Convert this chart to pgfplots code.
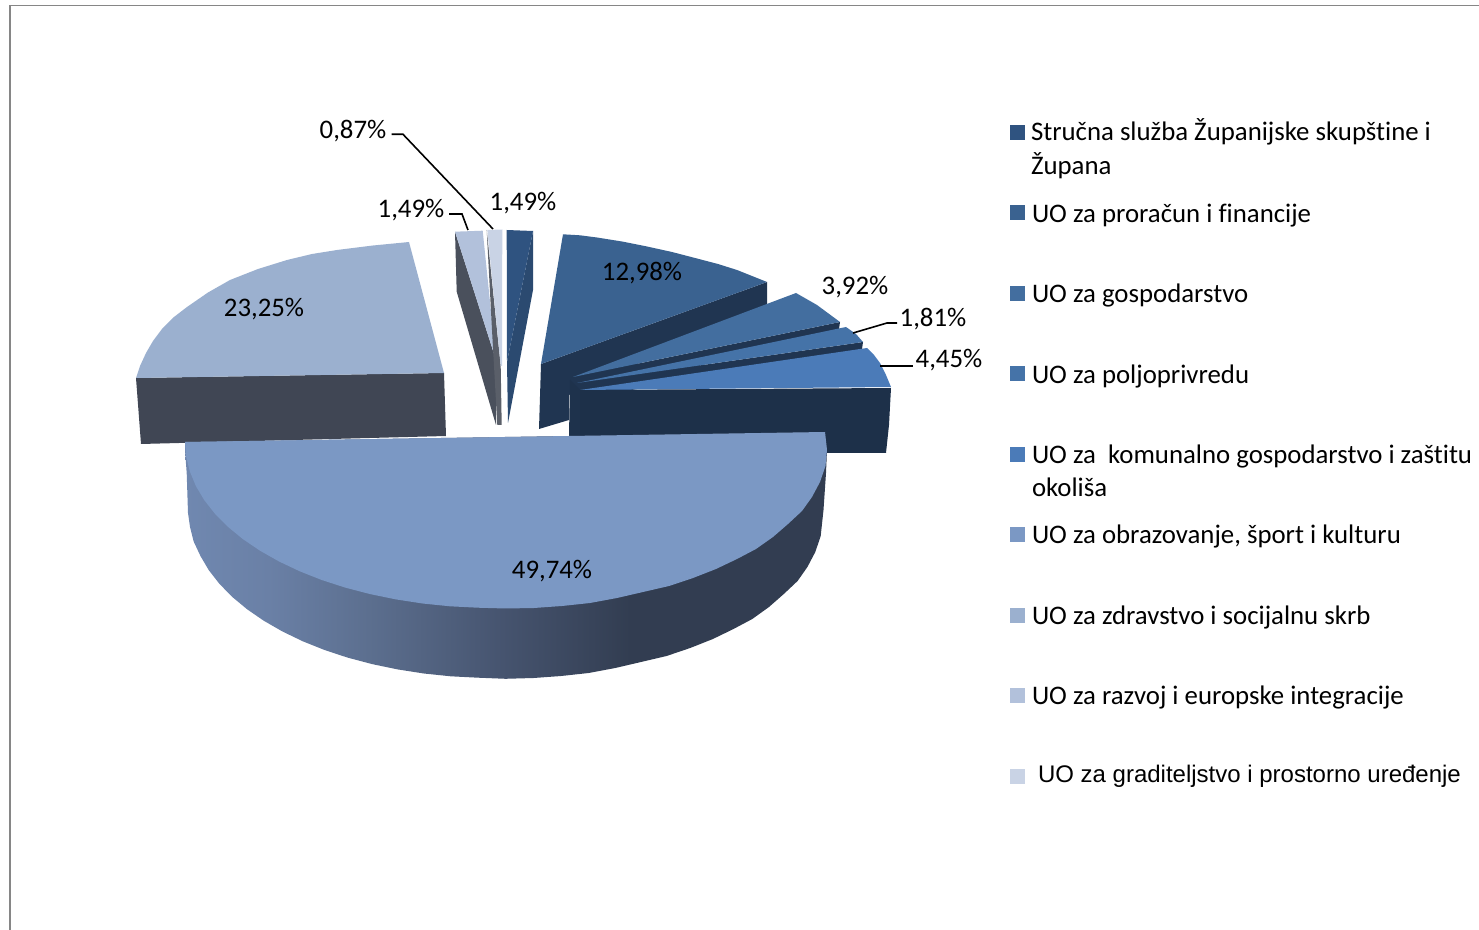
\documentclass[border=0pt]{standalone}
\usepackage{fontspec}
\setmainfont{Carlito}[RawFeature={-liga;-clig}]
\newfontfamily\arialf{Liberation Sans}
\usepackage{pgfplots}
\pgfplotsset{compat=1.18}
\definecolor{ss0}{HTML}{7088B0}
\definecolor{ss1}{HTML}{6A80A6}
\definecolor{ss2}{HTML}{5C6F8F}
\definecolor{ss3}{HTML}{46546F}
\definecolor{ss4}{HTML}{323D51}
\pgfdeclarehorizontalshading{pieside}{100bp}{color(0bp)=(ss0); color(25bp)=(ss0); color(31.5bp)=(ss1); color(39.3bp)=(ss2); color(49.7bp)=(ss3); color(59.7bp)=(ss4); color(100bp)=(ss4)}
\definecolor{c1}{HTML}{2F5380}
\definecolor{c2}{HTML}{3A6290}
\definecolor{c3}{HTML}{436E9F}
\definecolor{c4}{HTML}{4573A8}
\definecolor{c5}{HTML}{4B7BB8}
\definecolor{c6}{HTML}{7B98C4}
\definecolor{c7}{HTML}{9BB0CF}
\definecolor{c8}{HTML}{B2C1DB}
\definecolor{c9}{HTML}{C9D3E5}
\definecolor{d1}{HTML}{2B4A70}
\definecolor{d2}{HTML}{203551}
\definecolor{d4}{HTML}{1E324C}
\definecolor{d5}{HTML}{1D3049}
\definecolor{d7}{HTML}{404654}
\definecolor{d8}{HTML}{4A505C}
\definecolor{d9}{HTML}{5A5F69}
\definecolor{fr}{HTML}{868686}
\tikzset{tx/.style={inner sep=0pt, outer sep=0pt}}
\begin{document}
\begin{tikzpicture}
\path[use as bounding box] (0,0) rectangle (739.5pt,465pt);
\begin{axis}[
  at={(0,0)}, anchor=south west,
  width=739.5pt, height=465pt, scale only axis,
  xmin=0, xmax=1479, ymin=0, ymax=930, y dir=reverse,
  hide axis, clip=false, no markers,
]
% frame
\addplot[fr, line width=0.7pt] coordinates {(10,930) (10,5.5) (1479,5.5)};
% slice 23,25
\addplot[draw=none, fill=d7] coordinates {(136,378) (444,373) (446,436) (141,444)} --cycle;
\addplot[draw=none, fill=c7] coordinates {(136,378) (140,366) (146,353) (153,341) (162,329) (174,317) (187,307) (208,292.5) (230,280) (258,269) (287,260) (312,254) (337,250) (373,245.5) (409,242) (444,373)} --cycle;
% slice 1,49 (razvoj)
\addplot[draw=none, fill=d8] coordinates {(455,231.7) (456.7,291.7) (496,425) (496,360)} --cycle;
\addplot[draw=none, fill=c8] coordinates {(455,231.7) (482.7,230.7) (496,360)} --cycle;
% slice 0,87
\addplot[draw=none, fill=d9] coordinates {(486.7,230) (500.7,366) (501.7,425) (497.3,425) (492,330)} --cycle;
\addplot[draw=none, fill=c9] coordinates {(487.3,230) (502.3,229.5) (502,366) (500.7,366)} --cycle;
% slice 1,49 (first)
\addplot[draw=none, fill=d1] coordinates {(533,231) (533,290) (508,423) (507,362)} --cycle;
\addplot[draw=none, fill=c1] coordinates {(506.7,230) (533,231) (507,362)} --cycle;
% slice 12,98
\addplot[draw=none, fill=d2] coordinates {(541,364) (767,282) (767,305) (569,395) (569,420) (539,429)} --cycle;
\addplot[draw=none, fill=c2] coordinates {(541,364) (563,234.3) (580,235.3) (597,237.5) (622,241.5) (647,246.5) (672,252) (697,258.5) (718,264) (737,270) (767,282)} --cycle;
% slice 3,92
\addplot[draw=none, fill=d2] coordinates {(573,377) (840,322) (839,329) (570,400)} --cycle;
\addplot[draw=none, fill=c3] coordinates {(573,377) (796,293) (817,305) (840,322)} --cycle;
% slice 1,81
\addplot[draw=none, fill=d2] coordinates {(577,383) (863,342) (862,349) (575,400)} --cycle;
\addplot[draw=none, fill=c4] coordinates {(577,383) (846,327) (856,334) (863,342)} --cycle;
% slice 4,45
\addplot[draw=none, fill=d4] coordinates {(570,380) (580,390) (580,436) (569,436)} --cycle;
\addplot[draw=none, fill=d5] coordinates {(580,390) (891,388) (889,425) (886,453) (600,453) (580,436)} --cycle;
\addplot[draw=none, fill=c5] coordinates {(580,390) (867,348) (874,355) (880,363) (886,375) (891,387)} --cycle;
% big slice side
\addplot[draw=none, shading=pieside] coordinates {(185,442) (185,450) (186.7,473) (188,513) (190,527) (193.7,541.6) (200.5,556.1) (208.8,570.2) (219.4,583.8) (232.1,596.8) (247,609.2) (263.7,620.7) (282.3,631.4) (302.6,641.2) (324.5,650) (347.6,657.6) (372.1,664.1) (397.6,669.4) (423.8,673.5) (450.7,676.3) (478,677.7) (505.5,678.8) (533.6,678) (561.2,676) (588.7,673) (615.3,668) (641,662) (666.6,656) (690.2,648) (712.9,639) (733.5,629) (752.3,619) (769,607) (783.8,594) (797.6,581) (807.4,567) (815.3,552) (820.7,536) (823.5,510) (826,473) (827,450) (825,432)} --cycle;
% big slice top
\addplot[draw=none, fill=c6] coordinates {(825,432) (827,450) (825.5,466) (820,482) (812,497) (802,511) (788,524) (773,537) (756,549) (737,559) (716,569) (693,578) (669,586) (643,592) (617,598) (590,603) (562,606) (534,608) (505.5,608.5) (477.6,607.7) (449.9,606.3) (422.5,603.5) (395.9,599.4) (370.1,594.1) (345.2,587.6) (321.7,580) (299.5,571.2) (278.9,561.4) (260,550.7) (243,539.2) (227.9,526.8) (215,513.8) (204.3,500.2) (195.9,486.1) (189.9,471.6) (186.2,456.9) (185,442)} --cycle;
% leader lines
\addplot[black, line width=0.8pt] coordinates {(391.7,134.3) (403,134.3) (493,229)};
\addplot[black, line width=0.8pt] coordinates {(449,214) (462,214) (468,230)};
\addplot[black, line width=0.8pt] coordinates {(853,333) (887,323) (897,323)};
\addplot[black, line width=0.8pt] coordinates {(880,366) (913,366)};
% legend keys
\addplot[draw=none, fill=c1] coordinates {(1010,125) (1025,125) (1025,140) (1010,140)} --cycle;
\addplot[draw=none, fill=c2] coordinates {(1010,205) (1025,205) (1025,220) (1010,220)} --cycle;
\addplot[draw=none, fill=c3] coordinates {(1010,286) (1025,286) (1025,301) (1010,301)} --cycle;
\addplot[draw=none, fill=c4] coordinates {(1010,366) (1025,366) (1025,381) (1010,381)} --cycle;
\addplot[draw=none, fill=c5] coordinates {(1010,447) (1025,447) (1025,462) (1010,462)} --cycle;
\addplot[draw=none, fill=c6] coordinates {(1010,527) (1025,527) (1025,542) (1010,542)} --cycle;
\addplot[draw=none, fill=c7] coordinates {(1010,608) (1025,608) (1025,623) (1010,623)} --cycle;
\addplot[draw=none, fill=c8] coordinates {(1010,688) (1025,688) (1025,703) (1010,703)} --cycle;
\addplot[draw=none, fill=c9] coordinates {(1010,769) (1025,769) (1025,784) (1010,784)} --cycle;
% data labels
\def\lab{\fontsize{13.4}{16}\selectfont}
\node[tx,anchor=center] at (axis cs:353,131) {\lab 0,87\%};
\node[tx,anchor=center] at (axis cs:411,210) {\lab 1,49\%};
\node[tx,anchor=center] at (axis cs:523,203) {\lab 1,49\%};
\node[tx,anchor=center] at (axis cs:264,309) {\lab 23,25\%};
\node[tx,anchor=center] at (axis cs:642,273) {\lab 12,98\%};
\node[tx,anchor=center] at (axis cs:855,287) {\lab 3,92\%};
\node[tx,anchor=center] at (axis cs:933,319) {\lab 1,81\%};
\node[tx,anchor=center] at (axis cs:949,360) {\lab 4,45\%};
\node[tx,anchor=center] at (axis cs:552,571) {\lab 49,74\%};
% legend text
\def\leg{\fontsize{13.4}{16}\selectfont}
\node[tx,anchor=base west] at (axis cs:1031,141) {\leg Stručna služba Županijske skupštine i};
\node[tx,anchor=base west] at (axis cs:1031,174.5) {\leg Župana};
\node[tx,anchor=base west] at (axis cs:1032,222.5) {\leg UO za proračun i financije};
\node[tx,anchor=base west] at (axis cs:1032,303) {\leg UO za gospodarstvo};
\node[tx,anchor=base west] at (axis cs:1032,383.5) {\leg UO za poljoprivredu};
\node[tx,anchor=base west] at (axis cs:1032,463.5) {\leg UO za\ \ komunalno gospodarstvo i zaštitu};
\node[tx,anchor=base west] at (axis cs:1032,496.5) {\leg okoliša};
\node[tx,anchor=base west] at (axis cs:1032,543.5) {\leg UO za obrazovanje, šport i kulturu};
\node[tx,anchor=base west] at (axis cs:1032,624.5) {\leg UO za zdravstvo i socijalnu skrb};
\node[tx,anchor=base west] at (axis cs:1032,704.5) {\leg UO za razvoj i europske integracije};
\node[tx,anchor=base west] at (axis cs:1038,782.5) {\arialf\fontsize{12}{15}\selectfont UO za graditeljstvo i prostorno uređenje};
\end{axis}
\end{tikzpicture}
\end{document}
